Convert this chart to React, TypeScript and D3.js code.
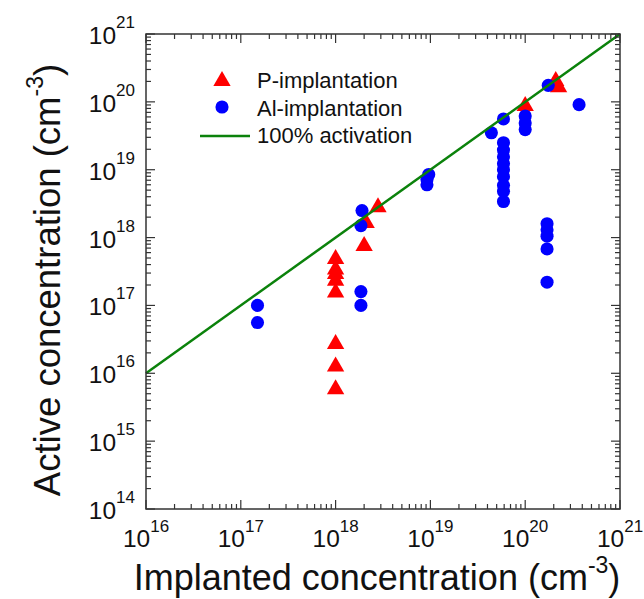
import React from "react";
import * as d3 from "d3";

const W = 644;
const H = 599;

// P-implantation (red triangles): [implanted, active]
const pImplant: [number, number][] = [
  [1e18, 5e17], [1e18, 3.5e17], [1e18, 3e17], [1e18, 2.4e17], [1e18, 1.6e17],
  [1e18, 2.8e16], [1e18, 1.3e16], [1e18, 6e15],
  [2e18, 7.8e17], [2.1e18, 1.7e18], [2.8e18, 2.9e18],
  [1e20, 9e19], [2.1e20, 2.1e20], [2.25e20, 1.7e20],
];

// Al-implantation (blue circles): [implanted, active]
const alImplant: [number, number][] = [
  [1.5e17, 1e17], [1.5e17, 5.6e16],
  [1.9e18, 2.5e18], [1.85e18, 1.5e18], [1.85e18, 1.6e17], [1.85e18, 1e17],
  [9.6e18, 8.5e18], [9.2e18, 7.2e18], [9.2e18, 6e18],
  [4.4e19, 3.5e19], [5.9e19, 5.6e19],
  [5.9e19, 2.5e19], [5.9e19, 1.95e19], [5.9e19, 1.55e19], [5.9e19, 1.23e19],
  [5.9e19, 1e19], [5.9e19, 7.9e18], [5.9e19, 5.9e18], [5.9e19, 4.8e18], [5.9e19, 3.4e18],
  [1e20, 6.2e19], [1e20, 4.9e19], [1e20, 3.9e19],
  [1.75e20, 1.75e20], [3.7e20, 9.1e19],
  [1.7e20, 1.6e18], [1.7e20, 1.3e18], [1.7e20, 1.05e18], [1.7e20, 6.8e17], [1.7e20, 2.2e17],
];

// 100% activation reference line
const lineX: number[] = [1e16, 1e21];

const xTickExps: number[] = [16, 17, 18, 19, 20, 21];
const yTickExps: number[] = [14, 15, 16, 17, 18, 19, 20, 21];

const legendLabels: string[] = ["P-implantation", "Al-implantation", "100% activation"];

const FONT = "'Liberation Sans', Arial, Helvetica, sans-serif";
const RED = "#ff0000";
const BLUE = "#0000ff";
const GREEN = "#0b820b";
const AX = "#333333";

export default function App() {
  const left = 146, right = 620, top = 34, bottom = 509;
  const x = d3.scaleLog().domain([1e16, 1e21]).range([left, right]);
  const y = d3.scaleLog().domain([1e14, 1e21]).range([bottom, top]);

  const minorX: number[] = [];
  for (let e = 16; e < 21; e++) for (let m = 2; m <= 9; m++) minorX.push(m * Math.pow(10, e));
  const minorY: number[] = [];
  for (let e = 14; e < 21; e++) for (let m = 2; m <= 9; m++) minorY.push(m * Math.pow(10, e));

  const MAJ = 9, MIN = 5;
  const triPath = d3.symbol().type(d3.symbolTriangle).size(130)() as string;
  const circPath = d3.symbol().type(d3.symbolCircle).size(135)() as string;

  const line = d3.line<number>().x((v) => x(v)).y((v) => y(v));

  return (
    <svg width={W} height={H} style={{ position: "absolute", left: 0, top: 0, background: "#fff" }} fontFamily={FONT}>
      {/* markers */}
      <g>
        {pImplant.map(([a, b], i) => (
          <path key={"p" + i} d={triPath} transform={`translate(${x(a)},${y(b) + 1})`} fill={RED} />
        ))}
      </g>
      <g>
        {alImplant.map(([a, b], i) => (
          <path key={"a" + i} d={circPath} transform={`translate(${x(a)},${y(b)})`} fill={BLUE} />
        ))}
      </g>
      <path d={line(lineX) as string} stroke={GREEN} strokeWidth={2.5} fill="none" />

      {/* frame */}
      <rect x={left} y={top} width={right - left} height={bottom - top} fill="none" stroke={AX} strokeWidth={1.5} />
      <g stroke={AX} strokeWidth={1.2}>
        {xTickExps.map((e) => {
          const px = x(Math.pow(10, e));
          return (
            <g key={"xm" + e}>
              <line x1={px} x2={px} y1={bottom} y2={bottom - MAJ} />
              <line x1={px} x2={px} y1={top} y2={top + MAJ} />
            </g>
          );
        })}
        {minorX.map((v, i) => {
          const px = x(v);
          return (
            <g key={"xn" + i}>
              <line x1={px} x2={px} y1={bottom} y2={bottom - MIN} />
              <line x1={px} x2={px} y1={top} y2={top + MIN} />
            </g>
          );
        })}
        {yTickExps.map((e) => {
          const py = y(Math.pow(10, e));
          return (
            <g key={"ym" + e}>
              <line x1={left} x2={left + MAJ} y1={py} y2={py} />
              <line x1={right} x2={right - MAJ} y1={py} y2={py} />
            </g>
          );
        })}
        {minorY.map((v, i) => {
          const py = y(v);
          return (
            <g key={"yn" + i}>
              <line x1={left} x2={left + MIN} y1={py} y2={py} />
              <line x1={right} x2={right - MIN} y1={py} y2={py} />
            </g>
          );
        })}
      </g>

      {/* x tick labels */}
      <g fill="#111">
        {xTickExps.map((e) => (
          <text key={"xl" + e} x={x(Math.pow(10, e))} y={547} textAnchor="middle" fontSize={24.5}>
            10
            <tspan fontSize={17} dy={-15}>{e}</tspan>
          </text>
        ))}
      </g>
      {/* y tick labels */}
      <g fill="#111">
        {yTickExps.map((e) => (
          <text key={"yl" + e} x={135} y={y(Math.pow(10, e)) + 10} textAnchor="end" fontSize={24.5}>
            10
            <tspan fontSize={17} dy={-16}>{e}</tspan>
          </text>
        ))}
      </g>

      {/* axis titles */}
      <text x={377} y={590} textAnchor="middle" fontSize={36} fill="#111">
        Implanted concentration (cm
        <tspan fontSize={23} dy={-17}>-3</tspan>
        <tspan dy={17}>)</tspan>
      </text>
      <text transform={`translate(60,280) rotate(-90)`} textAnchor="middle" fontSize={36.5} fill="#111">
        Active concentration (cm
        <tspan fontSize={23} dy={-17}>-3</tspan>
        <tspan dy={17}>)</tspan>
      </text>

      {/* legend */}
      <g>
        <path d={triPath} transform="translate(222,81)" fill={RED} />
        <path d={circPath} transform="translate(222,107)" fill={BLUE} />
        <line x1={200} x2={250} y1={136} y2={136} stroke={GREEN} strokeWidth={2.5} />
        {legendLabels.map((t, i) => (
          <text key={t} x={257} y={88 + i * 27.5} fontSize={22} fill="#111">{t}</text>
        ))}
      </g>
    </svg>
  );
}
